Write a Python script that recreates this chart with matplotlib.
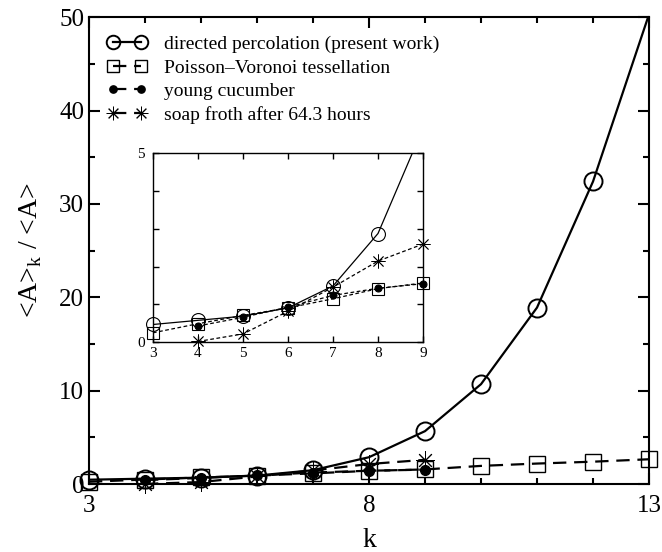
import matplotlib
matplotlib.use('Agg')
import matplotlib.pyplot as plt
from matplotlib.ticker import MultipleLocator, FixedLocator

# data
k_dp = [3, 4, 5, 6, 7, 8, 9, 10, 11, 12, 13]
area_dp = [0.47, 0.58, 0.69, 0.91, 1.49, 2.88, 5.67, 10.7, 18.9, 32.4, 50.3]

k_pv = [3, 4, 5, 6, 7, 8, 9, 10, 11, 12, 13]
area_pv = [0.25, 0.49, 0.71, 0.91, 1.15, 1.42, 1.57, 1.95, 2.2, 2.4, 2.66]

k_cu = [4, 5, 6, 7, 8, 9]
area_cu = [0.43, 0.66, 0.93, 1.24, 1.43, 1.55]

k_sf = [4, 5, 6, 7, 8, 9]
area_sf = [0.02, 0.22, 0.82, 1.46, 2.15, 2.6]

labels = ['directed percolation (present work)',
          'Poisson\u2013Voronoi tessellation',
          'young cucumber',
          'soap froth after 64.3 hours']

STAR = (8, 2, 0)


def main():
    plt.rcParams['font.family'] = ['Liberation Serif', 'DejaVu Serif']
    plt.rcParams['mathtext.fontset'] = 'custom'
    plt.rcParams['mathtext.rm'] = 'Liberation Serif'

    fig = plt.figure(figsize=(6.62, 5.52), dpi=100)
    ax = fig.add_axes([0.1344, 0.123, 0.846, 0.846])
    ins = fig.add_axes([0.231, 0.380, 0.408, 0.342])

    draw_main(ax)
    draw_inset(ins)

    fig.savefig('out.png', dpi=100)


def style_ticks(ax, size, major_len, minor_len, width):
    ax.tick_params(which='both', direction='in', top=True, right=True,
                   width=width, labelsize=size)
    ax.tick_params(which='major', length=major_len)
    ax.tick_params(which='minor', length=minor_len)
    for sp in ax.spines.values():
        sp.set_linewidth(width)


def upto(ks, vals, kmax):
    pairs = [(k, v) for k, v in zip(ks, vals) if k <= kmax]
    return [p[0] for p in pairs], [p[1] for p in pairs]


def draw_main(ax):
    dash = (0, (6, 3.5))
    # solid curve is clipped at the top, its markers are not
    ax.plot(k_dp, area_dp, '-', color='black', lw=1.6)
    ax.plot(k_dp[:10], area_dp[:10], 'o', color='black', ms=13,
            mfc='none', mew=1.4, clip_on=False)
    ax.plot([], [], '-', color='black', lw=1.6, marker='o', ms=13,
            mfc='none', mew=1.4, label=labels[0])
    ax.plot(k_pv, area_pv, linestyle=dash, color='black', lw=1.6,
            marker='s', ms=11, mfc='none', mew=1.0, label=labels[1],
            clip_on=False)
    ax.plot(k_cu, area_cu, linestyle=dash, color='black', lw=1.6,
            marker='o', ms=7, mfc='black', mew=1.0, label=labels[2],
            clip_on=False)
    ax.plot(k_sf, area_sf, linestyle=dash, color='black', lw=1.6,
            marker=STAR, ms=13, mew=0.7, label=labels[3],
            clip_on=False)

    ax.set_xlim(3, 13)
    ax.set_ylim(0, 50)
    ax.xaxis.set_major_locator(FixedLocator([3, 8, 13]))
    ax.xaxis.set_minor_locator(MultipleLocator(1))
    ax.yaxis.set_major_locator(MultipleLocator(10))
    ax.yaxis.set_minor_locator(MultipleLocator(5))
    style_ticks(ax, 18, 8, 4.5, 1.5)
    ax.tick_params(axis='x', pad=8)

    ax.set_xlabel('k', fontsize=20, labelpad=8)
    ax.set_ylabel(r'<A>$_{\mathrm{k}}$ / <A>', fontsize=20, labelpad=11)

    ax.legend(loc='upper left', frameon=False, fontsize=14, numpoints=2,
              markerscale=0.75, handlelength=2.0, handletextpad=0.9,
              labelspacing=0.3, borderaxespad=0.5, borderpad=0.45)


def draw_inset(ax):
    dash = (0, (3, 2))
    ax.plot(k_dp, area_dp, '-', color='black', lw=0.9)
    kd, vd = upto(k_dp, area_dp, 8)
    ax.plot(kd, vd, 'o', color='black', ms=10, mfc='none', mew=0.8,
            clip_on=False)
    kp, vp = upto(k_pv, area_pv, 9)
    ax.plot(kp, vp, linestyle=dash, color='black', lw=0.9,
            marker='s', ms=8, mfc='none', mew=0.8, clip_on=False)
    ax.plot(k_cu, area_cu, linestyle=dash, color='black', lw=0.9,
            marker='o', ms=5, mfc='black', mew=0.8, clip_on=False)
    ax.plot(k_sf, area_sf, linestyle=dash, color='black', lw=0.9,
            marker=STAR, ms=10, mew=0.6, clip_on=False)

    ax.set_xlim(3, 9)
    ax.set_ylim(0, 5)
    ax.xaxis.set_major_locator(MultipleLocator(1))
    ax.yaxis.set_major_locator(FixedLocator([0, 5]))
    ax.yaxis.set_minor_locator(MultipleLocator(1))
    style_ticks(ax, 11, 4, 4, 1.0)
    ax.tick_params(axis='y', pad=6)


if __name__ == '__main__':
    main()
